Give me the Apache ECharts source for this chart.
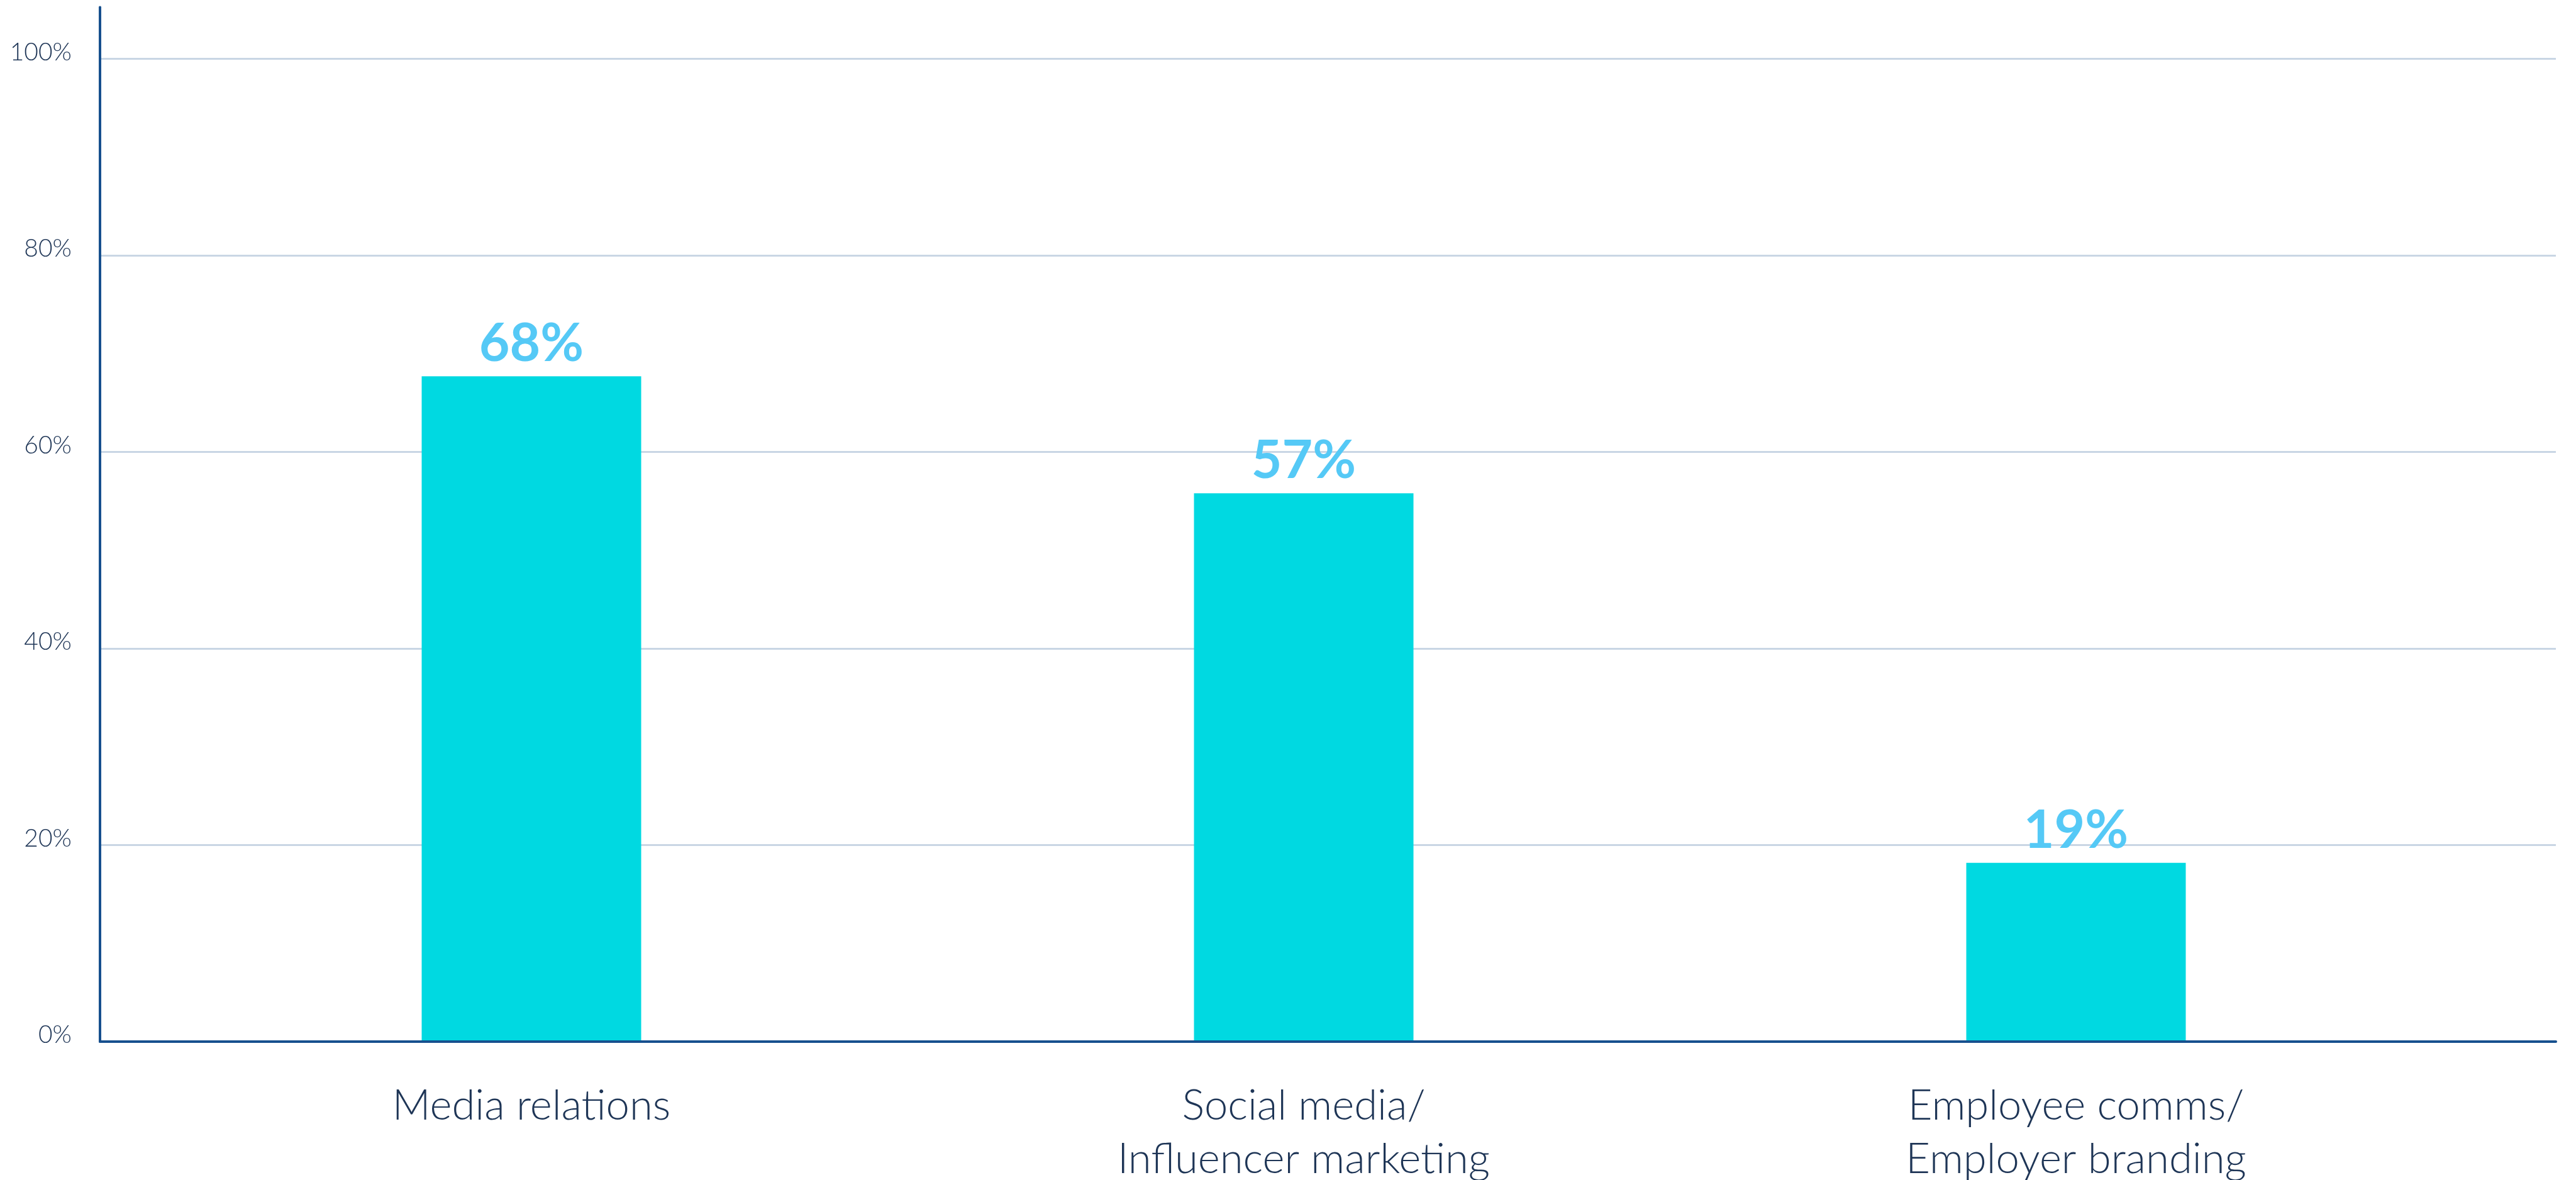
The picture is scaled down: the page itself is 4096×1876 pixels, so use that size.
<!DOCTYPE html>
<html>
<head>
<meta charset="utf-8">
<script src="https://cdn.jsdelivr.net/npm/echarts@6/dist/echarts.min.js"></script>
<style>
html,body{margin:0;padding:0;background:#fff;}
#chart{width:4096px;height:1876px;}
</style>
</head>
<body>
<div id="chart"></div>
<script>
const categories = ['Media relations', 'Social media/\nInfluencer marketing', 'Employee comms/\nEmployer branding'];
const values = [67.7, 55.8, 18.2];
const valueLabels = ['68%', '57%', '19%'];
const yMin = 0, yMax = 100, yStep = 20;

const TEXT = '#1E3556';
const AXIS = '#17508E';
const GRID = '#C9D6E4';
const BAR = '#00D9E1';
const LABEL = '#55C9F6';

const chart = echarts.init(document.getElementById('chart'));
chart.setOption({
  backgroundColor: '#ffffff',
  animation: false,
  grid: [
    {left: 159, right: 32, top: 93.5, bottom: 220, outerBoundsMode: 'none', containLabel: false},
    {left: 159, right: 32, top: 11.4, bottom: 220, outerBoundsMode: 'none', containLabel: false},
    {left: 231, right: 181, top: 93.5, bottom: 220, outerBoundsMode: 'none', containLabel: false}
  ],
  xAxis: [
    {type: 'category', gridIndex: 0, data: categories, z: 10,
     axisLine: {show: true, lineStyle: {color: AXIS, width: 4}},
     axisTick: {show: false}, axisLabel: {show: false}, splitLine: {show: false}},
    {type: 'category', gridIndex: 1, data: categories, show: false},
    {type: 'category', gridIndex: 2, data: categories,
     axisLine: {show: false}, axisTick: {show: false}, splitLine: {show: false},
     axisLabel: {show: true, color: TEXT, fontFamily: 'Lato', fontWeight: 300, fontSize: 67,
       lineHeight: 85, margin: 60, interval: 0}}
  ],
  yAxis: [
    {type: 'value', gridIndex: 0, min: yMin, max: yMax, interval: yStep,
     axisLine: {show: false}, axisTick: {show: false},
     splitLine: {show: true, lineStyle: {color: GRID, width: 3}},
     axisLabel: {color: TEXT, fontFamily: 'Lato', fontWeight: 300, fontSize: 39, margin: 45,
       formatter: '{value}%', verticalAlign: 'bottom', lineHeight: 21}},
    {type: 'value', gridIndex: 1, min: 0, max: 1, z: 10,
     axisLine: {show: true, lineStyle: {color: AXIS, width: 4}},
     axisTick: {show: false}, axisLabel: {show: false}, splitLine: {show: false}},
    {type: 'value', gridIndex: 2, min: yMin, max: yMax, show: false, splitLine: {show: false}}
  ],
  series: [{
    type: 'bar', xAxisIndex: 2, yAxisIndex: 2,
    data: values,
    barWidth: 349,
    itemStyle: {color: BAR},
    label: {show: true, position: 'top', distance: 9, color: LABEL,
      fontFamily: 'Lato', fontWeight: 'bold', fontSize: 84,
      formatter: p => valueLabels[p.dataIndex]}
  }]
});
</script>
</body>
</html>
